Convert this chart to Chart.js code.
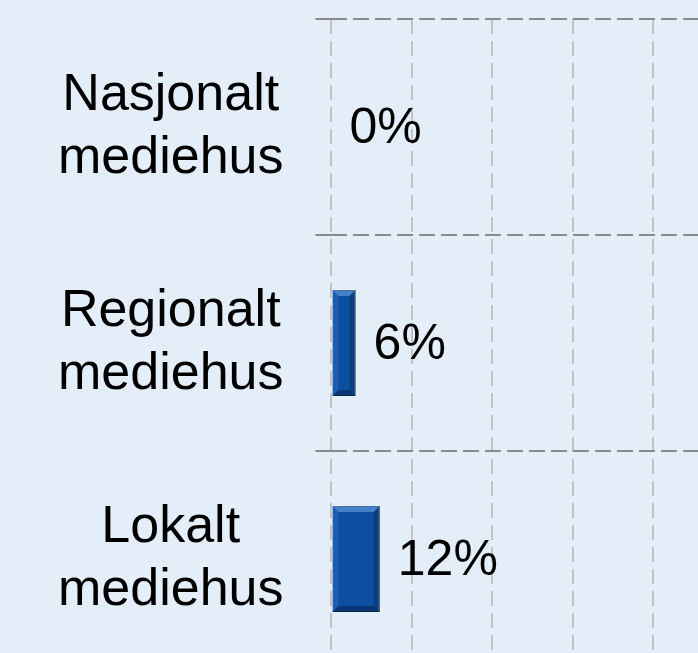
<!DOCTYPE html>
<html>
<head>
<meta charset="utf-8">
<script src="https://cdn.jsdelivr.net/npm/chart.js@4/dist/chart.umd.min.js"></script>
<style>
  html, body { margin: 0; padding: 0; overflow: hidden; background: #E4EEF8; }
  canvas { display: block; }
</style>
</head>
<body>
<canvas id="mediaChart" width="760" height="690"></canvas>
<script>
const categories = [["Nasjonalt", "mediehus"], ["Regionalt", "mediehus"], ["Lokalt", "mediehus"]];
const shares = [0, 6, 12];
const xMax = 100;
const xStep = 20;

// bevel look on the bars, drawn from each bar element
const bevelPlugin = {
  id: "bevel",
  afterDatasetsDraw(chart) {
    const ctx = chart.ctx;
    chart.getDatasetMeta(0).data.forEach((bar) => {
      const p = bar.getProps(["x", "y", "base", "height"], true);
      const l = Math.min(p.base, p.x), r = Math.max(p.base, p.x);
      const t = p.y - p.height / 2, b = p.y + p.height / 2;
      if (r - l < 1) return;
      const e = Math.min(6, (r - l) / 2);
      ctx.save();
      ctx.fillStyle = "rgba(120,170,235,0.55)";
      ctx.beginPath();
      ctx.moveTo(l, t); ctx.lineTo(r, t); ctx.lineTo(r - e, t + e); ctx.lineTo(l + e, t + e);
      ctx.fill();
      ctx.fillStyle = "rgba(5,25,60,0.45)";
      ctx.beginPath();
      ctx.moveTo(l, b); ctx.lineTo(r, b); ctx.lineTo(r - e, b - e); ctx.lineTo(l + e, b - e);
      ctx.fill();
      ctx.fillStyle = "rgba(5,25,60,0.3)";
      ctx.beginPath();
      ctx.moveTo(r, t); ctx.lineTo(r, b); ctx.lineTo(r - e, b - e); ctx.lineTo(r - e, t + e);
      ctx.fill();
      ctx.fillStyle = "rgba(90,140,210,0.25)";
      ctx.beginPath();
      ctx.moveTo(l, t); ctx.lineTo(l, b); ctx.lineTo(l + e, b - e); ctx.lineTo(l + e, t + e);
      ctx.fill();
      ctx.restore();
    });
  }
};

const valueLabels = {
  id: "valueLabels",
  afterDatasetsDraw(chart) {
    const ctx = chart.ctx;
    ctx.save();
    ctx.font = "50px 'Liberation Sans', Arial, sans-serif";
    ctx.fillStyle = "#000";
    ctx.textAlign = "left";
    ctx.textBaseline = "middle";
    chart.getDatasetMeta(0).data.forEach((bar, i) => {
      ctx.fillText(shares[i] + "%", bar.x + 18, bar.y + 2);
    });
    ctx.restore();
  }
};

new Chart(document.getElementById("mediaChart"), {
  type: "bar",
  data: {
    labels: categories,
    datasets: [{
      data: shares,
      backgroundColor: "#0C4EA0",
      borderColor: "#0A2E5E",
      borderWidth: 1,
      barPercentage: 0.49,
      categoryPercentage: 1
    }]
  },
  options: {
    indexAxis: "y",
    responsive: false,
    animation: false,
    layout: { padding: { left: 26, top: 19, right: 26, bottom: 23 } },
    plugins: { legend: { display: false }, tooltip: { enabled: false } },
    scales: {
      x: {
        min: 0,
        max: xMax,
        ticks: { display: false, stepSize: xStep },
        grid: { color: "#C2C2C2", lineWidth: 2, drawTicks: false },
        border: { display: false, dash: [15, 7] }
      },
      y: {
        ticks: {
          color: "#000",
          font: { family: "'Liberation Sans', Arial, sans-serif", size: 52, lineHeight: 1.2 },
          crossAlign: "center",
          padding: 32
        },
        grid: {
          offset: true,
          color: "#8A8A8A",
          lineWidth: 2,
          tickLength: 16,
          tickColor: "#8A8A8A",
          tickBorderDash: [16, 6]
        },
        border: { display: false, dash: [16, 6] },
        afterFit(scale) {
          // labels sit mid-category, no extra room needed above/below
          scale.paddingTop = 0;
          scale.paddingBottom = 0;
        }
      }
    }
  },
  plugins: [bevelPlugin, valueLabels]
});
</script>
</body>
</html>
